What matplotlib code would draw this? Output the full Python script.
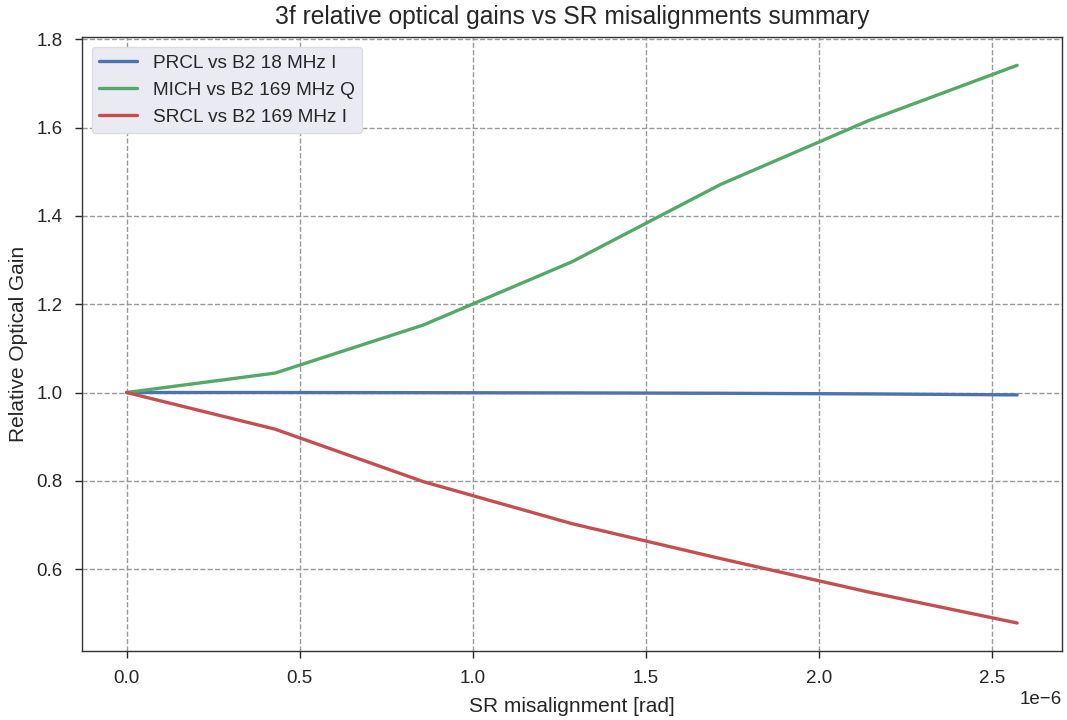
import matplotlib
matplotlib.use('Agg')
import matplotlib.pyplot as plt
import seaborn as sns

# misalignment in rad (units of 1e-6 shown by the offset text)
misalignment = [0.0, 0.4286e-6, 0.8571e-6, 1.2857e-6, 1.7143e-6, 2.1429e-6, 2.5714e-6]
prcl_gain = [1.0, 1.0, 0.9996, 0.9991, 0.9983, 0.9968, 0.9946]
mich_gain = [1.0, 1.044, 1.153, 1.296, 1.471, 1.616, 1.741]
srcl_gain = [1.0, 0.917, 0.798, 0.703, 0.624, 0.548, 0.478]
labels = ['PRCL vs B2 18 MHz I', 'MICH vs B2 169 MHz Q', 'SRCL vs B2 169 MHz I']
colors = ['#4C72B0', '#55A868', '#C44E52']


def main():
    sns.set_style('ticks')
    plt.rcParams['font.family'] = ['Liberation Sans', 'DejaVu Sans']

    fig, ax = plt.subplots(figsize=(10.67, 7.2), dpi=100)
    for y, lab, c in zip([prcl_gain, mich_gain, srcl_gain], labels, colors):
        ax.plot(misalignment, y, color=c, linewidth=2.4, label=lab)

    ax.grid(True, linestyle='--', color='#999999', linewidth=1.0)
    ax.set_axisbelow(True)
    for s in ax.spines.values():
        s.set_color('#333333')
        s.set_linewidth(1.0)
    ax.tick_params(labelsize=13.5, colors='#262626', length=5, width=1, pad=9)
    ax.xaxis.get_offset_text().set_fontsize(13.5)

    ax.set_xlabel('SR misalignment [rad]', fontsize=15, color='#262626', labelpad=7)
    ax.set_ylabel('Relative Optical Gain', fontsize=15, color='#262626', labelpad=6)
    ax.set_title('3f relative optical gains vs SR misalignments summary', fontsize=17.7,
                 color='#262626', pad=10)

    leg = ax.legend(loc='upper left', fontsize=13.7, frameon=True, facecolor='#EAEAF2',
                    edgecolor='#DDDDDD', framealpha=1.0)
    for t in leg.get_texts():
        t.set_color('#262626')

    fig.subplots_adjust(left=0.077, right=0.995, top=0.948, bottom=0.096)
    fig.savefig('out.png', dpi=100)


if __name__ == "__main__":
    main()
